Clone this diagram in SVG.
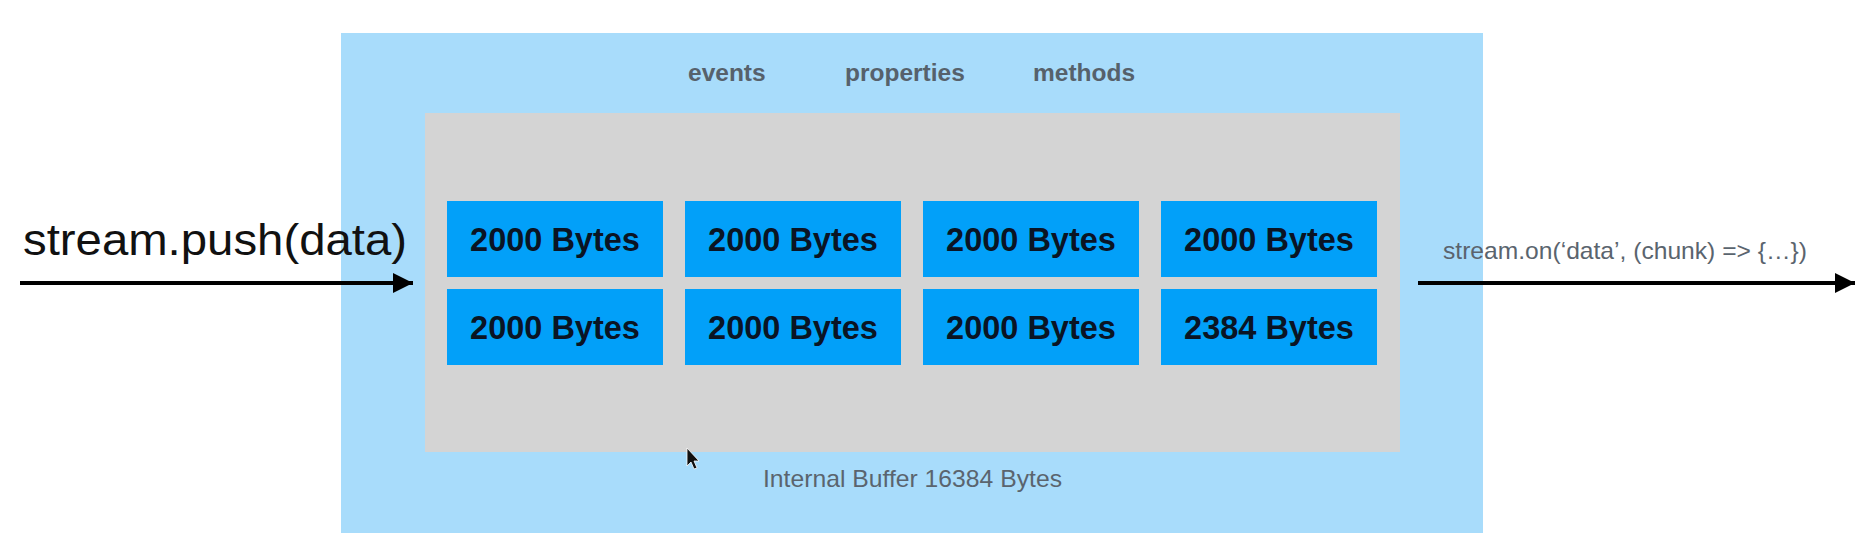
<svg xmlns="http://www.w3.org/2000/svg" width="1858" height="560" viewBox="0 0 1858 560">
<defs>
<style>
.cell{fill:#02A0F9;}
.ct{font-family:"Liberation Sans",Arial,sans-serif;font-weight:bold;font-size:32.5px;fill:#0A1424;text-anchor:middle;}
.lbl{font-family:"Liberation Sans",Arial,sans-serif;font-weight:bold;font-size:24.5px;fill:#56616B;}
.gt{font-family:"Liberation Sans",Arial,sans-serif;font-size:24px;fill:#5A646E;}
.conn{stroke:#000;stroke-width:4;fill:none;}
</style>
<marker id="ah" markerUnits="userSpaceOnUse" markerWidth="22" markerHeight="22" refX="20" refY="10" orient="auto">
<path d="M0,0 L20,10 L0,20 Z" fill="#000"/>
</marker>
</defs>
<rect width="1858" height="560" fill="#FFFFFF"/>
<g id="stream-object">
<rect x="341" y="33" width="1142" height="500" fill="#A8DCFB"/>
<text class="lbl" x="688" y="81">events</text>
<text class="lbl" x="845" y="81">properties</text>
<text class="lbl" x="1033" y="81">methods</text>
<text class="gt" x="912.5" y="487" text-anchor="middle" textLength="299" lengthAdjust="spacingAndGlyphs">Internal Buffer 16384 Bytes</text>
</g>
<g id="internal-buffer">
<rect x="425" y="113" width="975" height="339" fill="#D4D4D4"/>
</g>
<g id="cell-1-1"><rect class="cell" x="447" y="201" width="216" height="76"/><text class="ct" x="555" y="251">2000 Bytes</text></g>
<g id="cell-1-2"><rect class="cell" x="685" y="201" width="216" height="76"/><text class="ct" x="793" y="251">2000 Bytes</text></g>
<g id="cell-1-3"><rect class="cell" x="923" y="201" width="216" height="76"/><text class="ct" x="1031" y="251">2000 Bytes</text></g>
<g id="cell-1-4"><rect class="cell" x="1161" y="201" width="216" height="76"/><text class="ct" x="1269" y="251">2000 Bytes</text></g>
<g id="cell-2-1"><rect class="cell" x="447" y="289" width="216" height="76"/><text class="ct" x="555" y="339">2000 Bytes</text></g>
<g id="cell-2-2"><rect class="cell" x="685" y="289" width="216" height="76"/><text class="ct" x="793" y="339">2000 Bytes</text></g>
<g id="cell-2-3"><rect class="cell" x="923" y="289" width="216" height="76"/><text class="ct" x="1031" y="339">2000 Bytes</text></g>
<g id="cell-2-4"><rect class="cell" x="1161" y="289" width="216" height="76"/><text class="ct" x="1269" y="339">2384 Bytes</text></g>
<g id="connectors">
<line class="conn" x1="20" y1="283" x2="413" y2="283" marker-end="url(#ah)"/>
<line class="conn" x1="1418" y1="283" x2="1855" y2="283" marker-end="url(#ah)"/>
</g>
<g id="labels">
<text x="23" y="255" font-family="'Liberation Sans',Arial,sans-serif" font-size="45" fill="#111" textLength="384" lengthAdjust="spacingAndGlyphs">stream.push(data)</text>
<text class="gt" x="1443" y="259" textLength="364" lengthAdjust="spacingAndGlyphs">stream.on(‘data’, (chunk) =&gt; {…})</text>
</g>
<g id="cursor">
<path d="M687,448 L687,466 L691,462 L694,469 L697,468 L694,461 L699,461 Z" fill="#111" stroke="#fff" stroke-width="0.8"/>
</g>
</svg>
